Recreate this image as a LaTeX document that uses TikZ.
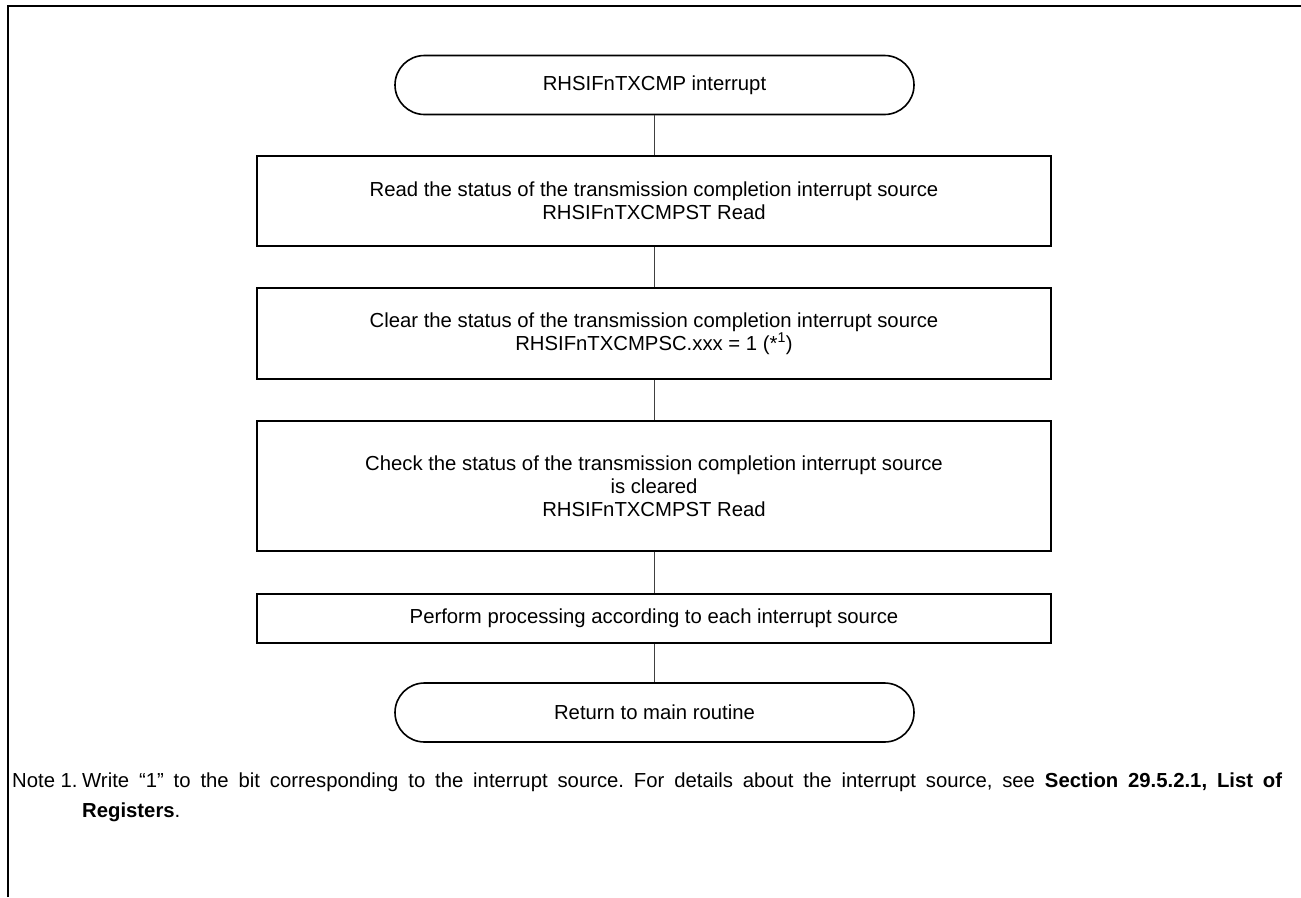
\documentclass[tikz,border=0pt]{standalone}
\usepackage{fontspec}
\setmainfont{Liberation Sans}
\usetikzlibrary{shapes.misc}
\frenchspacing
\begin{document}
\begin{tikzpicture}[x=1pt,y=-1pt,
  every node/.style={font=\fontsize{20.3}{23}\selectfont, inner sep=0pt},
  procbox/.style={draw=black, line width=1.6pt, rectangle, minimum width=794pt, align=center},
  termbox/.style={draw=black, line width=1.6pt, rounded rectangle, minimum width=519pt, minimum height=59pt, align=center},
  link/.style={draw=black!75, line width=1pt},
  notetext/.style={anchor=base west}
]
\useasboundingbox (0,0) rectangle (1301,897);
\draw[line width=2pt] (8,897) -- (8,6) -- (1301,6);

\node[termbox] (start) at (654.5,85) {RHSIFnTXCMP interrupt};
\node[procbox, minimum height=90pt] (b1) at (654,201)
  {Read the status of the transmission completion interrupt source\\RHSIFnTXCMPST Read};
\node[procbox, minimum height=91pt] (b2) at (654,333.5)
  {Clear the status of the transmission completion interrupt source\\RHSIFnTXCMPSC.xxx = 1 (*\textsuperscript{1})};
\node[procbox, minimum height=130pt] (b3) at (654,486)
  {Check the status of the transmission completion interrupt source\\is cleared\\RHSIFnTXCMPST Read};
\node[procbox, minimum height=49pt] (b4) at (654,618.5)
  {Perform processing according to each interrupt source};
\node[termbox] (end) at (654.5,712.5) {Return to main routine};

\draw[link] (start.south -| b1.north) -- (b1.north);
\draw[link] (b1) -- (b2);
\draw[link] (b2) -- (b3);
\draw[link] (b3) -- (b4);
\draw[link] (b4.south) -- (b4.south |- end.north);

\node[notetext] (n1) at (12,787) {Note 1.};
\node[notetext] (n2) at (82,787) {\makebox[1200pt][s]{Write “1” to the bit corresponding to the interrupt source. For details about the interrupt source, see \textbf{Section 29.5.2.1, List of}}};
\node[notetext] (n3) at (82,817) {\textbf{Registers}.};
\end{tikzpicture}
\end{document}
